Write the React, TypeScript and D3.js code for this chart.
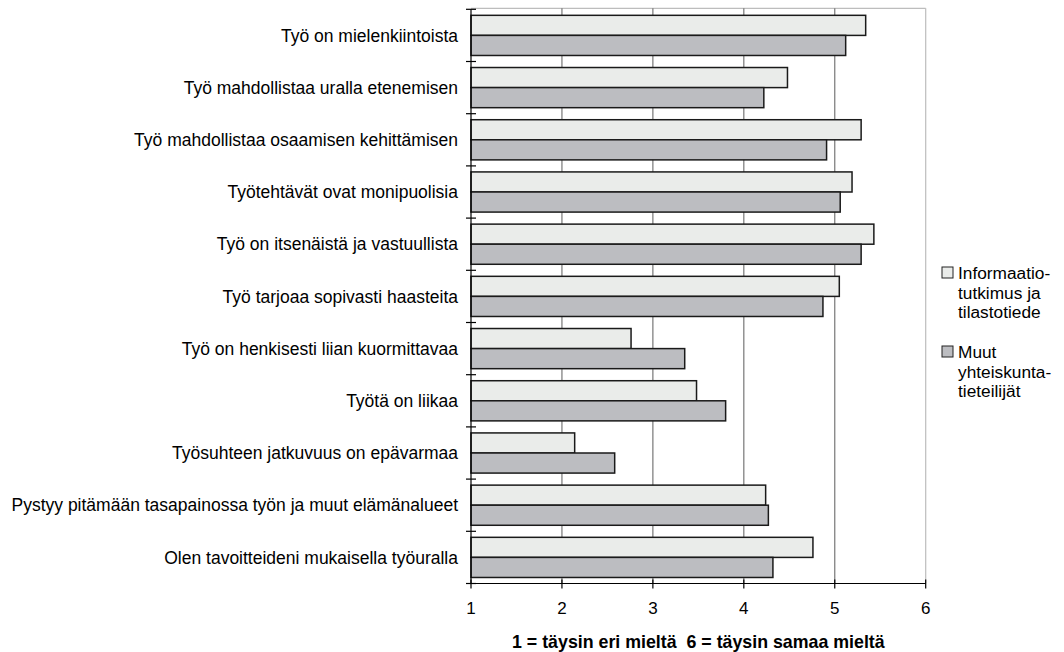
import React, { useRef, useEffect } from 'react';
import * as d3 from 'd3';

// väittämät (ylhäältä alas)
const categories = [
    'Työ on mielenkiintoista',
    'Työ mahdollistaa uralla etenemisen',
    'Työ mahdollistaa osaamisen kehittämisen',
    'Työtehtävät ovat monipuolisia',
    'Työ on itsenäistä ja vastuullista',
    'Työ tarjoaa sopivasti haasteita',
    'Työ on henkisesti liian kuormittavaa',
    'Työtä on liikaa',
    'Työsuhteen jatkuvuus on epävarmaa',
    'Pystyy pitämään tasapainossa työn ja muut elämänalueet',
    'Olen tavoitteideni mukaisella työuralla'
];

const infoValues = [5.34, 4.48, 5.29, 5.19, 5.43, 5.05, 2.76, 3.48, 2.14, 4.24, 4.76];
const muutValues = [5.12, 4.22, 4.91, 5.06, 5.29, 4.87, 3.35, 3.80, 2.58, 4.27, 4.32];

const seriesKeys = ['info', 'muut'];
const seriesLabels = [
    ['Informaatio-', 'tutkimus ja', 'tilastotiede'],
    ['Muut', 'yhteiskunta-', 'tieteilijät']
];
const seriesColors = ['#eaecea', '#bcbdc1'];

const xTicks = [1, 2, 3, 4, 5, 6];
const xTitle = '1 = täysin eri mieltä  6 = täysin samaa mieltä';

const FONT = 'Liberation Sans, Arial, sans-serif';
const FS = 17.5;

const App: React.FC = () => {
    const svgRef = useRef<SVGSVGElement | null>(null);

    useEffect(() => {
        if (!svgRef.current) return;
        const svg = d3.select(svgRef.current);
        svg.selectAll('*').remove();

        const left = 471, right = 925.7, top = 9.3, bottom = 583.5;

        const x = d3.scaleLinear().domain([1, 6]).range([left, right]);
        const y = d3.scaleBand().domain(categories).range([top, bottom]).padding(0);
        const ySub = d3.scaleBand().domain(seriesKeys).range([0, y.bandwidth()])
            .paddingInner(0).paddingOuter(0.3);

        const data = categories.map((c, i) => ({ name: c, info: infoValues[i], muut: muutValues[i] }));

        // plot frame (light)
        svg.append('line')
            .attr('x1', left).attr('x2', right).attr('y1', top - 1).attr('y2', top - 1)
            .attr('stroke', '#bdbdbd').attr('stroke-width', 1.2);
        svg.append('line')
            .attr('x1', right).attr('x2', right).attr('y1', top - 1).attr('y2', bottom)
            .attr('stroke', '#bdbdbd').attr('stroke-width', 1.2);

        // gridlines
        svg.append('g')
            .selectAll('line')
            .data(xTicks.filter(t => t > 1 && t < 6))
            .enter().append('line')
            .attr('x1', d => x(d)).attr('x2', d => x(d))
            .attr('y1', top - 1).attr('y2', bottom)
            .attr('stroke', '#777').attr('stroke-width', 1.2);

        // bars
        const groups = svg.append('g')
            .selectAll('g')
            .data(data)
            .enter().append('g')
            .attr('transform', d => `translate(0,${y(d.name)})`);

        seriesKeys.forEach((key, si) => {
            groups.append('rect')
                .attr('x', x(1))
                .attr('y', ySub(key) || 0)
                .attr('width', d => x((d as any)[key]) - x(1))
                .attr('height', ySub.bandwidth())
                .attr('fill', seriesColors[si])
                .attr('stroke', '#1a1a1a')
                .attr('stroke-width', 1.5);
        });

        // y axis
        const yAxis = svg.append('g')
            .attr('transform', `translate(${left},0)`);
        yAxis.append('line')
            .attr('x1', 0).attr('x2', 0).attr('y1', top).attr('y2', bottom)
            .attr('stroke', '#000').attr('stroke-width', 1.2);
        const yTickPos = categories.map(c => y(c) || 0).concat([bottom]);
        yAxis.selectAll('.ytick')
            .data(yTickPos)
            .enter().append('line')
            .attr('class', 'ytick')
            .attr('x1', -5).attr('x2', 5)
            .attr('y1', d => d).attr('y2', d => d)
            .attr('stroke', '#000').attr('stroke-width', 1.2);
        yAxis.selectAll('.ylabel')
            .data(categories)
            .enter().append('text')
            .attr('class', 'ylabel')
            .attr('x', -13)
            .attr('y', d => (y(d) || 0) + y.bandwidth() / 2)
            .attr('dy', '0.35em')
            .attr('text-anchor', 'end')
            .attr('font-family', FONT)
            .attr('font-size', FS)
            .attr('fill', '#000')
            .text(d => d);

        // x axis
        const xAxis = svg.append('g')
            .attr('transform', `translate(0,${bottom})`);
        xAxis.append('line')
            .attr('x1', left).attr('x2', right).attr('y1', 0).attr('y2', 0)
            .attr('stroke', '#000').attr('stroke-width', 1.2);
        xAxis.selectAll('.xtick')
            .data(xTicks)
            .enter().append('line')
            .attr('class', 'xtick')
            .attr('x1', d => x(d)).attr('x2', d => x(d))
            .attr('y1', -4).attr('y2', 5)
            .attr('stroke', '#000').attr('stroke-width', 1.2);
        xAxis.selectAll('.xlabel')
            .data(xTicks)
            .enter().append('text')
            .attr('class', 'xlabel')
            .attr('x', d => x(d))
            .attr('y', 24.5)
            .attr('dy', '0.35em')
            .attr('text-anchor', 'middle')
            .attr('font-family', FONT)
            .attr('font-size', 17)
            .attr('fill', '#000')
            .text(d => d);

        svg.append('text')
            .attr('x', (left + right) / 2)
            .attr('y', 642)
            .attr('dy', '0.35em')
            .attr('text-anchor', 'middle')
            .attr('font-family', FONT)
            .attr('font-size', 17.8)
            .attr('font-weight', 'bold')
            .attr('fill', '#000')
            .style('white-space', 'pre')
            .text(xTitle);

        // legend
        const legendY = [273, 352];
        const legend = svg.append('g');
        seriesLabels.forEach((lines, i) => {
            const g = legend.append('g').attr('transform', `translate(942,${legendY[i]})`);
            g.append('rect')
                .attr('x', 0).attr('y', -6)
                .attr('width', 11).attr('height', 11)
                .attr('fill', seriesColors[i])
                .attr('stroke', '#222').attr('stroke-width', 1);
            const t = g.append('text')
                .attr('font-family', FONT)
                .attr('font-size', 17.3)
                .attr('fill', '#000');
            lines.forEach((ln, li) => {
                t.append('tspan')
                    .attr('x', 16)
                    .attr('y', li * 19.5)
                    .attr('dy', '0.35em')
                    .text(ln);
            });
        });
    }, []);

    return (
        <svg ref={svgRef} width={1064} height={652}
            style={{ position: 'absolute', left: 0, top: 0, display: 'block', background: '#fff' }} />
    );
};

export default App;
